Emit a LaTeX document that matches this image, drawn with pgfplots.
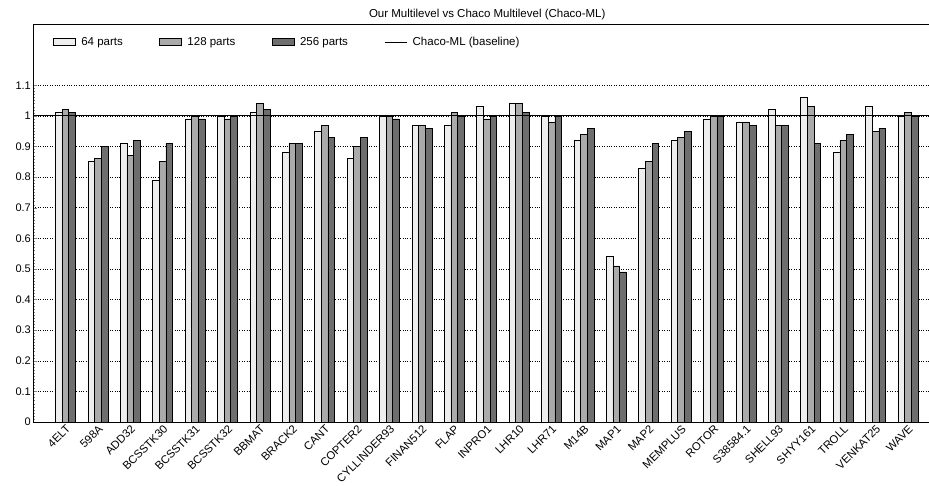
\documentclass[border=0pt]{standalone}
\usepackage{pgfplots}
\usepackage{pgfplotstable}
\pgfplotsset{compat=1.18}
\usepackage{fontspec}
\setmainfont{Liberation Sans}
\usetikzlibrary{calc}
\definecolor{c64}{HTML}{EEEEEE}
\definecolor{c128}{HTML}{AAAAAA}
\definecolor{c256}{HTML}{6E6E6E}

\pgfplotstableread{
x name a b c
0 4ELT 1.01 1.02 1.01
1 598A 0.85 0.86 0.90
2 ADD32 0.91 0.87 0.92
3 BCSSTK30 0.79 0.85 0.91
4 BCSSTK31 0.99 1.00 0.99
5 BCSSTK32 1.00 0.99 1.00
6 BBMAT 1.01 1.04 1.02
7 BRACK2 0.88 0.91 0.91
8 CANT 0.95 0.97 0.93
9 COPTER2 0.86 0.90 0.93
10 CYLLINDER93 1.00 1.00 0.99
11 FINAN512 0.97 0.97 0.96
12 FLAP 0.97 1.01 1.00
13 INPRO1 1.03 0.99 1.00
14 LHR10 1.04 1.04 1.01
15 LHR71 1.00 0.98 1.00
16 M14B 0.92 0.94 0.96
17 MAP1 0.54 0.51 0.49
18 MAP2 0.83 0.85 0.91
19 MEMPLUS 0.92 0.93 0.95
20 ROTOR 0.99 1.00 1.00
21 S38584.1 0.98 0.98 0.97
22 SHELL93 1.02 0.97 0.97
23 SHYY161 1.06 1.03 0.91
24 TROLL 0.88 0.92 0.94
25 VENKAT25 1.03 0.95 0.96
26 WAVE 1.00 1.01 1.00
}\data

\begin{document}
\begin{tikzpicture}
\begin{axis}[
  scale only axis,
  width=896pt, height=398pt,
  xmin=-1, xmax=26.65,
  ymin=0, ymax=1.3,
  ybar=0pt, bar width=6.67pt,
  axis x line*=box, axis y line*=left,
  axis line style={black, line width=0.7pt},
  xtick=data,
  xticklabels from table={\data}{name},
  x tick label style={rotate=45, anchor=north east, inner sep=1.5pt, font=\fontsize{11.3}{13}\selectfont},
  major x tick style={draw=none},
  ytick={0,0.1,0.2,0.3,0.4,0.5,0.6,0.7,0.8,0.9,1.0,1.1},
  yticklabels={0,0.1,0.2,0.3,0.4,0.5,0.6,0.7,0.8,0.9,1,1.1},
  y tick label style={font=\fontsize{11}{13}\selectfont, inner sep=2pt},
  minor y tick num=9,
  tick align=inside,
  major tick length=4pt, minor tick length=2pt,
  ymajorgrids,
  major grid style={black, dotted, line width=0.5pt},
  title={Our Multilevel vs Chaco Multilevel (Chaco-ML)},
  title style={at={(0.507,1)}, anchor=south, yshift=-4pt, inner sep=2pt, font=\fontsize{11.5}{13}\selectfont},
  legend columns=4,
  legend style={at={(0.019,0.9548)}, anchor=west, draw=none, fill=none,
    font=\fontsize{11.5}{13}\selectfont,
    /tikz/every odd column/.append style={column sep=3.5pt},
    /tikz/every even column/.append style={column sep=34.5pt}},
  legend image code/.code={\draw[#1] (0pt,-3.3pt) rectangle (22pt,3.3pt);},
]
\addplot[fill=c64, draw=black, line width=0.6pt, bar shift=-6.67pt] table[x=x,y=a]{\data};
\addlegendentry{64 parts}
\addplot[fill=c128, draw=black, line width=0.6pt, bar shift=0pt] table[x=x,y=b]{\data};
\addlegendentry{128 parts}
\addplot[fill=c256, draw=black, line width=0.6pt, bar shift=6.67pt] table[x=x,y=c]{\data};
\addlegendentry{256 parts}
\addplot[black, line width=0.7pt, sharp plot, no marks,
  legend image code/.code={\draw[black, line width=0.7pt] (0pt,0pt) -- (22pt,0pt);}]
  coordinates {(-1,1) (26.65,1)};
\addlegendentry{Chaco-ML (baseline)}
\coordinate (bl) at (rel axis cs:0,0);
\coordinate (tr) at (rel axis cs:1,1);
\end{axis}
\pgfresetboundingbox
\useasboundingbox ($(bl)+(-33pt,-63pt)$) rectangle ($(tr)+(0pt,24pt)$);
\end{tikzpicture}
\end{document}
